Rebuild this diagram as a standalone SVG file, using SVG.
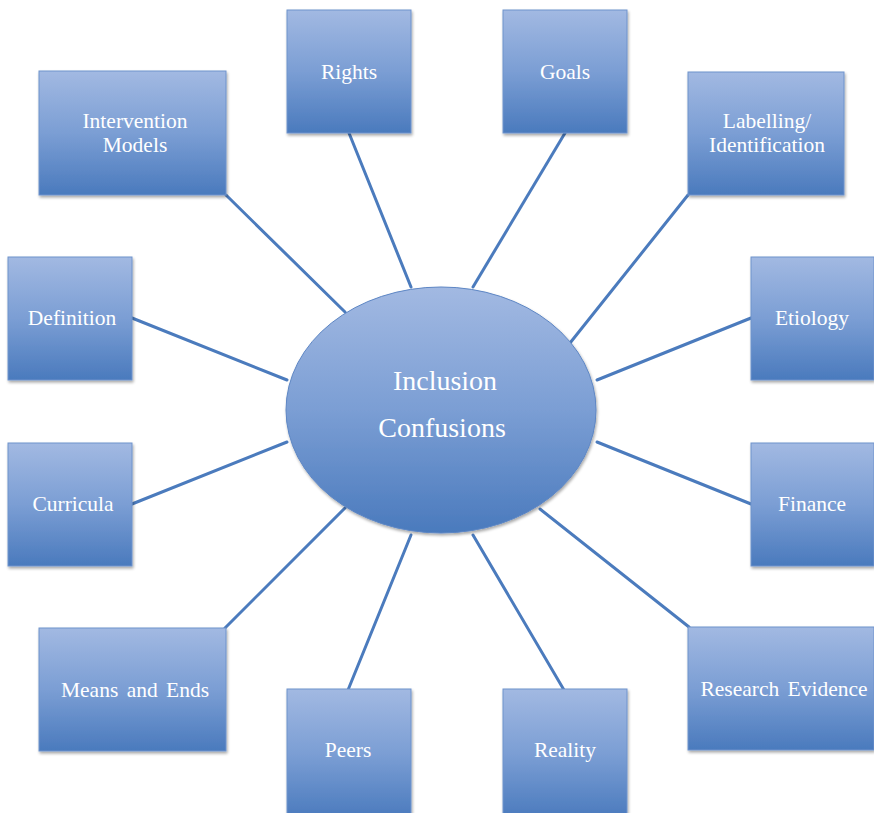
<svg xmlns="http://www.w3.org/2000/svg" width="874" height="813" viewBox="0 0 874 813">
  <defs>
    <linearGradient id="fill" x1="0" y1="0" x2="0" y2="1">
      <stop offset="0" stop-color="#a2b9e2"/>
      <stop offset="0.5" stop-color="#7b9ed4"/>
      <stop offset="1" stop-color="#4a7abd"/>
    </linearGradient>
    <filter id="shadow" x="-10%" y="-10%" width="125%" height="125%">
      <feGaussianBlur in="SourceAlpha" stdDeviation="1.5"/>
      <feOffset dx="1" dy="2" result="b"/>
      <feComponentTransfer><feFuncA type="linear" slope="0.35"/></feComponentTransfer>
      <feMerge><feMergeNode/><feMergeNode in="SourceGraphic"/></feMerge>
    </filter>
    <style>
      .box { fill: url(#fill); stroke: #6f93cc; stroke-width: 1; filter: url(#shadow); }
      .hub { fill: url(#fill); stroke: #5d86c4; stroke-width: 1; filter: url(#shadow); }
      .lbl { font-family: "Liberation Serif", "Times New Roman", serif; font-size: 21.5px; fill: #ffffff; text-anchor: middle; }
      .hubLbl { font-family: "Liberation Serif", "Times New Roman", serif; font-size: 28px; fill: #ffffff; text-anchor: middle; }
      .link { stroke: #4b7bbd; stroke-width: 3; fill: none; stroke-linecap: round; }
    </style>
  </defs>

  <rect width="874" height="813" fill="#ffffff"/>

  <!-- spokes from the hub to each topic -->
  <g id="connectors">
    <line class="link" x1="226" y1="195" x2="345" y2="312"/>
    <line class="link" x1="349" y1="133" x2="411" y2="287"/>
    <line class="link" x1="565" y1="133" x2="473" y2="287"/>
    <line class="link" x1="688" y1="195" x2="570" y2="343"/>
    <line class="link" x1="132" y1="318" x2="287" y2="380"/>
    <line class="link" x1="751" y1="318" x2="597" y2="380"/>
    <line class="link" x1="132" y1="504" x2="287" y2="442"/>
    <line class="link" x1="751" y1="504" x2="597" y2="442"/>
    <line class="link" x1="225" y1="628" x2="345" y2="508"/>
    <line class="link" x1="689" y1="627" x2="540" y2="509"/>
    <line class="link" x1="348" y1="690" x2="411" y2="535"/>
    <line class="link" x1="564" y1="690" x2="473" y2="535"/>
  </g>

  <g id="hub">
    <ellipse class="hub" cx="441" cy="410" rx="155" ry="123"/>
    <text class="hubLbl" x="445" y="390">Inclusion</text>
    <text class="hubLbl" x="442" y="437">Confusions</text>
  </g>

  <g id="intervention-models">
    <rect class="box" x="39" y="71" width="187" height="124"/>
    <text class="lbl" x="135" y="128">Intervention</text>
    <text class="lbl" x="135" y="152">Models</text>
  </g>
  <g id="rights">
    <rect class="box" x="287" y="10" width="124" height="123"/>
    <text class="lbl" x="349" y="79">Rights</text>
  </g>
  <g id="goals">
    <rect class="box" x="503" y="10" width="124" height="123"/>
    <text class="lbl" x="565" y="79">Goals</text>
  </g>
  <g id="labelling">
    <rect class="box" x="688" y="72" width="156" height="123"/>
    <text class="lbl" x="767" y="128">Labelling/</text>
    <text class="lbl" x="767" y="152">Identification</text>
  </g>
  <g id="definition">
    <rect class="box" x="8" y="257" width="124" height="123"/>
    <text class="lbl" x="72" y="325">Definition</text>
  </g>
  <g id="etiology">
    <rect class="box" x="751" y="257" width="123" height="123"/>
    <text class="lbl" x="812" y="325">Etiology</text>
  </g>
  <g id="curricula">
    <rect class="box" x="8" y="443" width="124" height="123"/>
    <text class="lbl" x="73" y="511">Curricula</text>
  </g>
  <g id="finance">
    <rect class="box" x="751" y="443" width="123" height="123"/>
    <text class="lbl" x="812" y="511">Finance</text>
  </g>
  <g id="means-and-ends">
    <rect class="box" x="39" y="628" width="187" height="123"/>
    <text class="lbl" x="135" y="697" word-spacing="3">Means and Ends</text>
  </g>
  <g id="research-evidence">
    <rect class="box" x="688" y="627" width="186" height="123"/>
    <text class="lbl" x="784" y="696" word-spacing="3">Research Evidence</text>
  </g>
  <g id="peers">
    <rect class="box" x="287" y="689" width="124" height="130"/>
    <text class="lbl" x="348" y="757">Peers</text>
  </g>
  <g id="reality">
    <rect class="box" x="503" y="689" width="124" height="130"/>
    <text class="lbl" x="565" y="757">Reality</text>
  </g>
</svg>
